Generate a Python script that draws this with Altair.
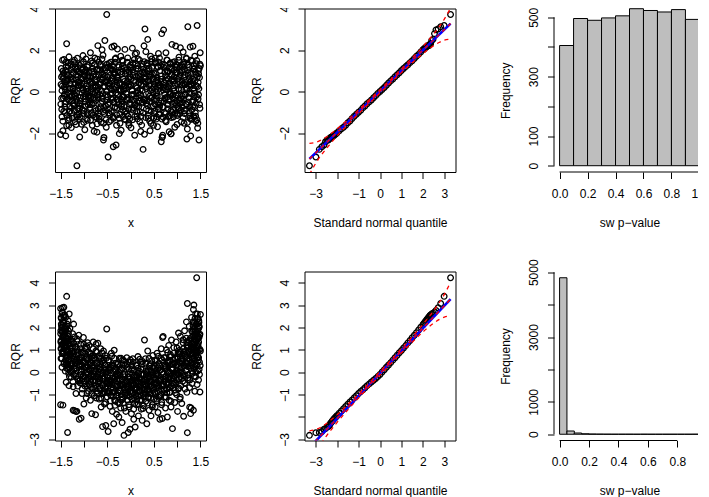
import altair as alt
import pandas as pd

FONT = "Liberation Sans"
W = 151
H1 = 163.5   # top row plot height
H2 = 169     # bottom row plot height

# ---------------- Panel 1: RQR vs x (row 1) ----------------
sc1_x = [
    -1.49,-1.47,-1.46,-1.44,-1.43,-1.41,-1.40,-1.38,-1.37,-1.35,-1.34,-1.32,-1.31,-1.48,-1.45,-1.42,-1.39,-1.36,-1.33,-1.30,
    -1.29,-1.28,-1.26,-1.25,-1.23,-1.22,-1.20,-1.19,-1.17,-1.16,-1.14,-1.13,-1.11,-1.27,-1.24,-1.21,-1.18,-1.15,-1.12,-1.10,
    -1.09,-1.08,-1.06,-1.05,-1.03,-1.02,-1.00,-0.99,-0.97,-0.96,-0.94,-0.93,-0.91,-1.07,-1.04,-1.01,-0.98,-0.95,-0.92,-0.90,
    -0.89,-0.88,-0.86,-0.85,-0.83,-0.82,-0.80,-0.79,-0.77,-0.76,-0.74,-0.73,-0.71,-0.87,-0.84,-0.81,-0.78,-0.75,-0.72,-0.70,
    -0.69,-0.68,-0.66,-0.65,-0.63,-0.62,-0.60,-0.59,-0.57,-0.56,-0.54,-0.53,-0.51,-0.67,-0.64,-0.61,-0.58,-0.55,-0.52,-0.51,
    -0.49,-0.48,-0.46,-0.45,-0.43,-0.42,-0.40,-0.39,-0.37,-0.36,-0.34,-0.33,-0.31,-0.47,-0.44,-0.41,-0.38,-0.35,-0.32,-0.30,
    -0.29,-0.28,-0.26,-0.25,-0.23,-0.22,-0.20,-0.19,-0.17,-0.16,-0.14,-0.13,-0.11,-0.27,-0.24,-0.21,-0.18,-0.15,-0.12,-0.10,
    -0.09,-0.08,-0.06,-0.05,-0.03,-0.02,0.00,0.01,0.03,0.04,0.06,0.07,0.09,-0.07,-0.04,-0.01,0.02,0.05,0.08,0.10,
    0.11,0.12,0.14,0.15,0.17,0.18,0.20,0.21,0.23,0.24,0.26,0.27,0.29,0.13,0.16,0.19,0.22,0.25,0.28,0.30,
    0.31,0.32,0.34,0.35,0.37,0.38,0.40,0.41,0.43,0.44,0.46,0.47,0.49,0.33,0.36,0.39,0.42,0.45,0.48,0.50,
    0.51,0.52,0.54,0.55,0.57,0.58,0.60,0.61,0.63,0.64,0.66,0.67,0.69,0.53,0.56,0.59,0.62,0.65,0.68,0.70,
    0.71,0.72,0.74,0.75,0.77,0.78,0.80,0.81,0.83,0.84,0.86,0.87,0.89,0.73,0.76,0.79,0.82,0.85,0.88,0.90,
    0.91,0.92,0.94,0.95,0.97,0.98,1.00,1.01,1.03,1.04,1.06,1.07,1.09,0.93,0.96,0.99,1.02,1.05,1.08,1.10,
    1.11,1.12,1.14,1.15,1.17,1.18,1.20,1.21,1.23,1.24,1.26,1.27,1.29,1.13,1.16,1.19,1.22,1.25,1.28,1.30,
    1.31,1.32,1.34,1.35,1.37,1.38,1.40,1.41,1.43,1.44,1.46,1.47,1.49,1.33,1.36,1.39,1.42,1.45,1.48,1.50,
    -1.37,-1.50,-1.39,-1.15,-0.58,0.68,1.22,-1.09,0.87,-0.72,
    -1.495,-1.47,-1.45,-1.42,-1.40,-1.37,-1.34,-1.31,
    -1.29,-1.26,-1.24,-1.21,-1.19,-1.16,-1.13,-1.11,
    -1.09,-1.06,-1.04,-1.01,-0.99,-0.96,-0.93,-0.91,
    -0.89,-0.86,-0.84,-0.81,-0.79,-0.76,-0.74,-0.71,
    -0.69,-0.66,-0.64,-0.61,-0.59,-0.56,-0.54,-0.51,
    -0.49,-0.46,-0.44,-0.41,-0.39,-0.36,-0.34,-0.31,
    -0.29,-0.26,-0.24,-0.21,-0.19,-0.16,-0.14,-0.11,
    -0.09,-0.06,-0.04,-0.01,0.01,0.04,0.06,0.09,
    0.11,0.14,0.16,0.19,0.21,0.24,0.26,0.29,
    0.31,0.34,0.36,0.39,0.41,0.44,0.46,0.49,
    0.51,0.54,0.56,0.59,0.61,0.64,0.66,0.69,
    0.71,0.74,0.76,0.79,0.81,0.84,0.86,0.89,
    0.91,0.94,0.96,0.99,1.01,1.04,1.06,1.09,
    1.11,1.14,1.16,1.19,1.21,1.24,1.26,1.29,
    1.31,1.34,1.36,1.39,1.41,1.44,1.46,1.49,
]
sc1_y = [
    0.35,-1.21,1.52,-0.31,0.88,-0.72,0.12,1.21,-1.64,0.55,-0.05,1.68,-0.94,0.71,-1.88,0.23,-0.48,0.98,-1.36,0.41,
    -0.22,1.05,-1.02,0.61,-0.58,1.43,0.04,-1.45,0.82,-0.36,1.61,-0.81,0.29,-1.73,0.19,-0.11,1.18,-1.21,0.47,-0.67,
    1.27,-0.44,0.66,-1.57,0.09,1.74,-0.92,0.38,-0.19,1.02,-1.31,0.51,-0.63,0.91,-0.07,1.44,-1.83,0.14,0.77,-0.39,
    0.58,-1.08,1.88,-0.27,0.97,-1.62,0.21,-0.55,1.31,-0.02,0.73,-1.24,1.57,-0.76,0.36,1.12,-1.91,-0.41,0.05,2.22,
    -0.83,1.42,-0.14,0.63,-1.47,0.92,-0.33,1.76,-2.21,0.26,-0.69,1.15,0.03,-1.18,0.45,2.02,-0.96,2.47,-1.71,3.72,
    0.71,-3.15,1.36,-0.52,0.17,-1.38,2.15,-0.08,-2.65,0.86,-0.79,1.58,-2.57,-1.02,0.39,1.09,-0.31,2.20,0.58,-1.62,
    0.31,2.06,-0.47,1.19,-1.09,0.02,-1.86,0.84,-0.24,1.47,-0.71,0.49,-1.35,0.66,-2.02,1.71,-0.58,0.12,2.04,-0.93,
    0.93,-0.36,1.63,-1.18,0.24,-0.61,1.29,-1.74,0.07,2.10,-0.89,0.55,-2.10,0.43,-1.49,0.71,-0.17,1.06,-0.46,1.82,
    -0.62,1.12,0.18,-1.31,0.77,-0.29,1.51,-0.97,0.36,-1.61,0.94,-2.78,2.21,1.87,-0.05,0.58,-1.92,1.33,-0.38,-2.05,
    3.02,0.62,-0.84,1.26,2.52,-1.16,0.29,-0.22,1.71,-1.53,0.11,0.83,-0.68,1.93,-0.43,0.51,-1.88,1.45,-0.06,-1.27,
    0.37,-0.95,1.38,-0.21,0.69,-1.69,1.84,-0.54,0.16,1.02,-2.41,2.80,-2.10,1.61,-1.21,0.44,-0.75,1.25,-2.19,0.08,
    2.98,-0.46,0.97,-1.39,0.25,1.53,-0.82,0.61,-1.93,1.17,-0.12,-2.03,2.28,-0.99,1.88,-0.26,0.41,-1.16,0.79,-0.57,
    1.41,-0.34,0.52,-1.71,2.20,-0.63,0.91,-1.08,0.14,1.66,-0.41,2.12,-1.45,0.03,-1.02,1.28,-0.19,0.74,-0.88,0.33,
    -0.74,1.19,0.38,-1.52,0.81,-0.15,1.59,-2.28,3.13,-0.49,0.62,-1.17,-2.13,1.91,-0.92,0.21,1.28,-0.06,2.15,-1.33,
    0.52,-0.87,2.19,1.08,-0.23,1.71,-1.41,0.29,3.19,-1.75,0.86,-2.33,1.32,-0.51,0.04,-1.02,1.51,-0.35,0.68,1.25,
    2.31,-2.06,-2.13,-3.57,-2.33,-2.20,-1.80,-2.18,-2.03,-1.95,
    -0.60,0.05,1.00,-0.20,-1.00,0.50,1.25,-0.45,
    0.70,-0.20,1.20,-0.90,0.40,-0.05,1.00,-1.10,
    -0.80,0.30,1.05,-0.25,0.75,-0.70,1.20,0.00,
    -0.30,0.50,-1.05,0.00,0.85,-0.80,0.30,-0.15,
    0.20,1.05,-0.55,0.55,-0.10,-1.05,0.80,-0.40,
    -0.25,0.40,-1.10,0.10,1.25,-0.50,0.95,0.20,
    -0.80,0.55,0.10,-0.35,1.10,-1.20,0.30,0.85,
    -0.10,0.50,-0.85,1.20,0.30,-0.40,0.95,-1.20,
    0.45,-0.70,1.10,-0.15,0.10,0.55,-0.50,0.90,
    -0.35,0.25,1.00,-0.90,0.70,-0.30,1.15,0.20,
    -0.40,0.50,-0.05,1.20,-1.10,0.30,0.60,-0.75,
    0.20,-0.30,0.55,1.00,-0.60,0.00,1.10,-1.00,
    -0.15,1.05,0.35,-0.45,0.60,-0.80,1.20,0.10,
    0.50,-0.35,1.05,-0.60,0.15,0.80,-1.00,0.35,
    -0.10,0.60,-1.20,0.95,-0.55,0.25,-0.15,-0.80,
]
# more points of the dense central band (row 1)
sc1c_x = [
    -1.485,-1.475,-1.462,-1.452,-1.438,-1.428,-1.415,-1.405,-1.392,-1.382,-1.368,-1.358,-1.345,-1.335,-1.322,-1.312,-1.302,
    -1.295,-1.282,-1.272,-1.258,-1.248,-1.235,-1.225,-1.212,-1.202,-1.188,-1.178,-1.165,-1.155,-1.142,-1.132,-1.118,-1.105,
    -1.095,-1.082,-1.072,-1.058,-1.048,-1.035,-1.025,-1.012,-1.002,-0.988,-0.978,-0.965,-0.955,-0.942,-0.932,-0.918,-0.905,
    -0.895,-0.882,-0.872,-0.858,-0.848,-0.835,-0.825,-0.812,-0.802,-0.788,-0.778,-0.765,-0.755,-0.742,-0.732,-0.718,-0.705,
    -0.695,-0.682,-0.672,-0.658,-0.648,-0.635,-0.625,-0.612,-0.602,-0.588,-0.578,-0.565,-0.555,-0.542,-0.532,-0.518,-0.505,
    -0.495,-0.482,-0.472,-0.458,-0.448,-0.435,-0.425,-0.412,-0.402,-0.388,-0.378,-0.365,-0.355,-0.342,-0.332,-0.318,-0.305,
    -0.295,-0.282,-0.272,-0.258,-0.248,-0.235,-0.225,-0.212,-0.202,-0.188,-0.178,-0.165,-0.155,-0.142,-0.132,-0.118,-0.105,
    -0.095,-0.082,-0.072,-0.058,-0.048,-0.035,-0.025,-0.012,-0.002,0.012,0.022,0.035,0.045,0.058,0.068,0.082,0.095,
    0.105,0.118,0.128,0.142,0.152,0.165,0.175,0.188,0.198,0.212,0.222,0.235,0.245,0.258,0.268,0.282,0.295,
    0.305,0.318,0.328,0.342,0.352,0.365,0.375,0.388,0.398,0.412,0.422,0.435,0.445,0.458,0.468,0.482,0.495,
    0.505,0.518,0.528,0.542,0.552,0.565,0.575,0.588,0.598,0.612,0.622,0.635,0.645,0.658,0.668,0.682,0.695,
    0.705,0.718,0.728,0.742,0.752,0.765,0.775,0.788,0.798,0.812,0.822,0.835,0.845,0.858,0.868,0.882,0.895,
    0.905,0.918,0.928,0.942,0.952,0.965,0.975,0.988,0.998,1.012,1.022,1.035,1.045,1.058,1.068,1.082,1.095,
    1.105,1.118,1.128,1.142,1.152,1.165,1.175,1.188,1.198,1.212,1.222,1.235,1.245,1.258,1.268,1.282,1.295,
    1.305,1.318,1.328,1.342,1.352,1.365,1.375,1.388,1.398,1.412,1.422,1.435,1.445,1.458,1.468,1.482,1.495,
    -1.478,-1.455,-1.432,-1.410,-1.388,-1.365,-1.342,-1.318,
    -1.288,-1.265,-1.242,-1.218,-1.195,-1.172,-1.148,-1.125,
    -1.088,-1.065,-1.042,-1.018,-0.995,-0.972,-0.948,-0.925,
    -0.888,-0.865,-0.842,-0.818,-0.795,-0.772,-0.748,-0.725,
    -0.688,-0.665,-0.642,-0.618,-0.595,-0.572,-0.548,-0.525,
    -0.488,-0.465,-0.442,-0.418,-0.395,-0.372,-0.348,-0.325,
    -0.288,-0.265,-0.242,-0.218,-0.195,-0.172,-0.148,-0.125,
    -0.088,-0.065,-0.042,-0.018,0.005,0.028,0.052,0.075,
    0.112,0.135,0.158,0.182,0.205,0.228,0.252,0.275,
    0.312,0.335,0.358,0.382,0.405,0.428,0.452,0.475,
    0.512,0.535,0.558,0.582,0.605,0.628,0.652,0.675,
    0.712,0.735,0.758,0.782,0.805,0.828,0.852,0.875,
    0.912,0.935,0.958,0.982,1.005,1.028,1.052,1.075,
    1.112,1.135,1.158,1.182,1.205,1.228,1.252,1.275,
    1.312,1.335,1.358,1.382,1.405,1.428,1.452,1.475,
]
sc1c_y = [
    1.12,-0.85,0.28,-1.42,0.64,1.55,-0.12,-0.58,1.02,0.32,-1.15,0.82,-0.35,1.38,-1.62,0.15,-0.72,
    -0.95,0.55,1.32,-0.42,-1.28,0.12,0.88,-0.68,1.52,-0.18,0.38,-1.58,1.08,-0.52,0.72,-1.32,0.95,
    0.48,-1.22,-0.28,1.35,0.62,-0.85,0.18,1.12,-1.48,-0.02,0.95,-0.48,1.58,0.28,-1.05,0.68,-0.22,
    1.28,-0.18,0.72,-1.38,0.05,1.48,-0.62,0.42,-1.12,0.98,-0.35,1.62,0.22,-0.92,0.58,-1.55,1.05,
    -0.28,0.82,-1.32,0.35,1.25,-0.72,0.05,1.58,-0.48,0.68,-1.52,0.22,1.02,-0.88,0.48,-0.15,1.32,
    1.18,-0.62,0.25,-1.45,0.78,-0.12,1.42,-0.95,0.52,-0.38,1.05,-1.28,0.12,0.88,-0.72,1.62,-0.05,
    -1.12,0.72,-0.15,1.28,-0.62,0.38,-1.52,0.95,0.08,-0.42,1.52,-0.88,0.62,-0.25,1.15,-1.32,0.28,
    0.18,-1.05,1.42,-0.28,0.62,-1.62,0.95,-0.52,0.32,1.12,-0.85,0.05,-1.35,0.78,-0.12,1.55,-0.65,
    1.35,-0.32,0.72,-1.18,0.05,1.58,-0.72,0.42,-1.45,0.88,-0.15,1.22,-0.55,0.28,-1.02,0.65,1.45,
    -0.42,0.95,-1.25,0.15,1.38,-0.68,0.52,-0.08,1.12,-1.42,0.35,0.78,-0.95,1.58,-0.25,0.62,-1.62,
    0.88,-0.58,1.45,0.12,-1.32,0.55,-0.22,1.18,-0.85,0.32,1.62,-1.08,0.02,0.75,-0.45,1.32,-1.22,
    -0.75,0.42,1.28,-0.35,0.78,-1.45,0.12,1.52,-0.62,0.95,-1.18,0.28,-0.08,1.35,-0.92,0.58,1.08,
    0.62,-1.22,0.18,1.45,-0.55,0.92,-0.18,1.18,-1.58,0.38,-0.72,1.52,0.08,-1.05,0.82,-0.35,1.28,
    1.02,-0.52,-1.25,0.68,1.42,-0.12,0.35,-0.85,1.62,0.12,-1.48,0.92,-0.28,1.18,-0.72,0.48,1.52,
    0.92,-1.32,1.48,-0.42,0.18,1.12,-0.72,0.55,-1.18,1.35,-0.25,0.72,-1.52,1.02,0.15,-0.62,1.88,
    -0.32,0.78,-0.95,0.45,1.42,-0.15,0.62,-1.28,
    0.15,-0.78,0.92,-0.28,1.35,0.58,-1.12,0.32,
    -0.58,1.15,0.38,-1.05,0.82,-0.35,0.12,-1.38,
    0.95,-0.62,0.15,1.38,-0.28,0.55,-1.22,1.05,
    -1.02,0.38,1.32,-0.22,0.85,-0.75,0.45,-1.35,
    0.52,-0.85,1.15,-0.32,0.68,-1.22,0.25,1.42,
    -0.38,0.95,-1.28,0.42,-0.72,1.25,0.05,-0.98,
    1.02,-0.42,0.35,-1.32,0.62,-0.15,1.38,-0.78,
    0.25,-0.95,1.25,-0.45,0.72,-1.18,0.05,1.08,
    0.48,-0.55,1.35,-1.28,0.85,0.05,-0.72,1.22,
    -1.05,0.88,-0.38,0.25,1.42,-0.65,0.48,-1.32,
    1.18,-0.15,-1.05,0.68,0.22,-0.42,1.38,-1.25,
    -0.88,0.72,-0.28,1.32,-1.15,0.48,-0.55,0.92,
    -0.22,1.32,-1.05,0.55,-0.62,1.05,0.28,-1.28,
    0.32,-0.72,1.25,-0.08,0.82,-1.35,0.45,1.12,
]

# ---------------- Panel 4: RQR vs x (row 2, U-shape) ----------------
sc2_x = [
    -1.50,-1.49,-1.49,-1.48,-1.48,-1.47,-1.47,-1.46,-1.46,-1.45,-1.45,-1.44,-1.44,-1.43,-1.43,-1.42,-1.42,-1.41,-1.41,-1.40,
    -1.39,-1.39,-1.38,-1.38,-1.37,-1.37,-1.36,-1.36,-1.35,-1.35,-1.34,-1.34,-1.33,-1.33,-1.32,-1.32,-1.31,-1.31,-1.30,-1.30,
    -1.29,-1.28,-1.27,-1.26,-1.25,-1.24,-1.23,-1.22,-1.21,-1.20,-1.19,-1.18,-1.17,-1.16,-1.15,-1.14,-1.13,-1.12,-1.11,-1.10,
    -1.09,-1.08,-1.07,-1.06,-1.05,-1.04,-1.03,-1.02,-1.01,-1.00,-0.99,-0.98,-0.97,-0.96,-0.95,-0.94,-0.93,-0.92,-0.91,-0.90,
    -0.89,-0.88,-0.87,-0.86,-0.85,-0.84,-0.83,-0.82,-0.81,-0.80,-0.79,-0.78,-0.77,-0.76,-0.75,-0.74,-0.73,-0.72,-0.71,-0.70,
    -0.69,-0.68,-0.67,-0.66,-0.65,-0.64,-0.63,-0.62,-0.61,-0.60,-0.59,-0.58,-0.57,-0.56,-0.55,-0.54,-0.53,-0.52,-0.51,-0.50,
    -0.49,-0.48,-0.47,-0.46,-0.45,-0.44,-0.43,-0.42,-0.41,-0.40,-0.39,-0.38,-0.37,-0.36,-0.35,-0.34,-0.33,-0.32,-0.31,-0.30,
    -0.29,-0.28,-0.27,-0.26,-0.25,-0.24,-0.23,-0.22,-0.21,-0.20,-0.19,-0.18,-0.17,-0.16,-0.15,-0.14,-0.13,-0.12,-0.11,-0.10,
    -0.09,-0.08,-0.07,-0.06,-0.05,-0.04,-0.03,-0.02,-0.01,0.00,0.01,0.02,0.03,0.04,0.05,0.06,0.07,0.08,0.09,0.10,
    0.11,0.12,0.13,0.14,0.15,0.16,0.17,0.18,0.19,0.20,0.21,0.22,0.23,0.24,0.25,0.26,0.27,0.28,0.29,0.30,
    0.31,0.32,0.33,0.34,0.35,0.36,0.37,0.38,0.39,0.40,0.41,0.42,0.43,0.44,0.45,0.46,0.47,0.48,0.49,0.50,
    0.51,0.52,0.53,0.54,0.55,0.56,0.57,0.58,0.59,0.60,0.61,0.62,0.63,0.64,0.65,0.66,0.67,0.68,0.69,0.70,
    0.71,0.72,0.73,0.74,0.75,0.76,0.77,0.78,0.79,0.80,0.81,0.82,0.83,0.84,0.85,0.86,0.87,0.88,0.89,0.90,
    0.91,0.92,0.93,0.94,0.95,0.96,0.97,0.98,0.99,1.00,1.01,1.02,1.03,1.04,1.05,1.06,1.07,1.08,1.09,1.10,
    1.11,1.12,1.13,1.14,1.15,1.16,1.17,1.18,1.19,1.20,1.21,1.22,1.22,1.23,1.24,1.25,1.26,1.27,1.28,1.29,
    1.30,1.31,1.32,1.32,1.33,1.34,1.35,1.35,1.36,1.36,1.37,1.37,1.38,1.38,1.39,1.39,1.40,1.40,1.30,1.33,
    1.41,1.41,1.42,1.42,1.43,1.43,1.44,1.44,1.45,1.45,1.46,1.46,1.47,1.47,1.48,1.48,1.49,1.49,1.50,1.50,
    -1.495,-1.485,-1.475,-1.465,-1.455,-1.435,-1.425,-1.405,
    -1.395,-1.385,-1.375,-1.355,-1.345,-1.325,-1.315,-1.305,
    -1.285,-1.265,-1.245,-1.225,-1.205,-1.185,-1.145,-1.115,
    -1.085,-1.055,-1.035,-1.005,-0.975,-0.955,-0.925,-0.905,
    -0.885,-0.855,-0.835,-0.805,-0.775,-0.745,-0.725,-0.705,
    -0.685,-0.655,-0.625,-0.595,-0.565,-0.545,-0.525,-0.505,
    -0.485,-0.455,-0.425,-0.395,-0.365,-0.345,-0.325,-0.305,
    -0.285,-0.255,-0.235,-0.205,-0.175,-0.155,-0.125,-0.105,
    -0.085,-0.055,-0.035,-0.005,0.025,0.055,0.075,0.095,
    0.115,0.145,0.165,0.195,0.225,0.245,0.275,0.295,
    0.315,0.345,0.365,0.395,0.425,0.445,0.475,0.495,
    0.515,0.545,0.565,0.595,0.625,0.655,0.675,0.695,
    0.715,0.745,0.765,0.795,0.825,0.845,0.875,0.895,
    0.915,0.945,0.965,0.995,1.025,1.055,1.075,1.095,
    1.115,1.145,1.175,1.205,1.235,1.255,1.275,1.295,
    1.305,1.325,1.345,1.365,1.375,1.385,1.395,1.405,
    1.415,1.425,1.435,1.445,1.455,1.465,1.475,1.495,
    -1.50,-1.23,-1.17,
]
sc2_y = [
    2.85,1.42,0.61,2.12,1.05,2.65,0.22,1.78,2.88,1.25,-1.47,2.31,0.85,1.62,2.90,0.45,1.95,2.55,1.15,0.05,
    2.45,0.72,1.55,-0.45,3.39,1.12,2.05,0.31,1.38,-2.69,0.90,2.30,0.12,1.72,-0.60,0.55,1.25,-0.20,0.85,1.95,
    0.35,1.45,-0.22,0.92,0.05,1.72,-0.65,2.15,0.58,-1.72,1.15,0.18,-0.95,0.75,-1.75,1.38,-0.30,0.45,1.65,-2.10,
    0.62,-0.48,1.25,-2.05,0.15,-0.95,0.88,-0.15,1.55,-1.42,0.42,-0.62,1.08,-0.02,-1.15,0.72,-0.35,1.32,0.25,-0.85,
    1.20,-0.55,0.35,-1.25,0.82,-0.12,-1.85,0.55,-0.75,1.35,0.08,-1.05,0.65,-0.38,-1.90,1.25,-0.20,0.42,-0.95,1.30,
    -0.45,0.72,-1.20,0.15,-0.72,1.05,-1.55,-0.05,0.48,-2.43,-0.95,0.95,-0.30,-1.42,0.32,-0.62,-2.38,0.62,1.93,-1.10,
    -0.15,-2.65,0.55,-0.85,-0.35,-1.52,0.22,-1.05,0.85,-0.55,-1.75,0.05,-0.72,-2.30,0.98,-1.25,-0.20,0.40,-1.05,-1.88,
    -0.62,0.35,-1.35,-0.10,-2.00,0.62,-0.85,-0.35,-1.60,0.12,-1.10,-2.25,0.55,-0.55,-1.38,-2.82,-0.20,-0.95,0.30,-1.75,
    -0.40,0.65,-1.25,-0.75,-2.69,0.15,-1.55,-0.30,-2.55,0.45,-0.95,-1.85,-0.05,-1.20,0.60,-0.60,-2.10,-0.20,-1.40,-2.45,
    -0.70,0.30,-1.45,-0.15,-1.05,0.70,-1.95,-0.45,0.05,-1.25,-0.85,0.45,-1.65,-0.30,-2.15,0.15,-0.95,-1.50,-0.10,1.44,
    -0.55,0.60,-1.30,-0.20,-2.30,-0.80,0.95,-1.10,0.10,-1.70,-0.40,0.35,-0.95,-1.95,0.05,-0.60,-1.45,0.75,-0.25,-1.20,
    0.20,-0.90,-1.55,0.55,-0.35,-1.20,0.85,-0.05,-1.80,-0.60,0.40,-1.05,-2.10,0.10,-0.75,1.05,-1.35,-2.07,1.55,1.60,
    -0.40,0.65,-1.10,0.15,-1.60,-0.20,1.00,-0.75,-2.00,0.40,-0.45,1.20,-1.25,0.00,-0.90,0.70,-1.55,1.44,-0.15,-2.52,
    0.35,-0.70,1.10,-0.15,-1.35,0.60,-0.45,1.35,-1.00,0.10,-1.75,0.85,1.75,-0.30,0.45,-1.20,1.60,-0.60,0.20,-1.40,
    0.75,-0.40,1.45,-1.97,0.30,1.85,-0.75,0.95,0.05,2.25,-0.90,3.07,-2.70,1.20,-0.35,0.60,2.05,-1.56,1.50,-1.85,
    0.40,2.45,1.10,-0.50,1.80,0.75,2.80,-1.70,3.00,1.35,0.15,2.20,0.95,-0.85,1.65,0.50,2.60,-0.20,-1.60,-0.05,
    1.40,0.30,4.22,2.15,0.90,-0.55,1.85,0.05,2.40,1.15,-0.35,0.65,2.00,1.55,-0.10,0.45,1.70,-0.88,2.58,0.95,
    1.85,2.40,1.20,2.00,0.90,2.20,1.40,1.80,
    1.60,2.00,0.40,1.00,1.50,0.70,2.60,0.20,
    0.80,0.40,1.10,-0.10,0.90,0.30,0.60,-0.40,
    0.30,0.90,-0.30,0.50,-0.20,0.60,0.00,0.90,
    0.10,-0.40,0.70,-0.20,0.30,-0.60,0.90,-0.10,
    0.30,-0.30,0.60,-0.60,0.10,-0.90,0.00,-0.40,
    -0.50,0.20,-0.40,-0.90,0.30,-0.60,-1.30,-0.10,
    -0.30,-0.80,0.10,-0.60,-1.20,-0.10,-0.50,-0.90,
    -0.90,-0.20,-0.60,-1.10,-0.40,-0.90,0.10,-0.70,
    -0.20,-0.90,-0.40,-1.00,-0.10,-0.70,-0.40,-1.10,
    -0.90,-0.10,-0.50,-0.90,-0.20,-0.60,0.20,-0.80,
    -0.50,-0.10,-0.70,0.20,-0.40,-1.00,0.00,-0.60,
    -0.80,0.30,-0.50,0.00,-0.30,0.50,-0.60,0.20,
    -0.30,0.40,-0.80,0.70,-0.10,0.90,-0.20,0.50,
    0.00,0.80,0.40,1.20,-0.10,0.90,0.30,1.00,
    1.30,0.30,1.90,0.60,1.50,2.40,1.00,0.00,
    1.80,1.20,2.60,0.70,1.60,2.30,1.00,0.30,
    -1.45,-1.70,-1.75,
]
# more points of the dense U-shaped band (row 2)
sc2c_x = [
    -1.498,-1.492,-1.488,-1.482,-1.478,-1.472,-1.468,-1.462,-1.458,-1.452,-1.448,-1.442,-1.438,-1.432,-1.428,-1.418,-1.408,
    -1.398,-1.392,-1.388,-1.382,-1.378,-1.372,-1.368,-1.362,-1.358,-1.352,-1.348,-1.342,-1.338,-1.332,-1.328,-1.318,-1.308,
    -1.295,-1.282,-1.272,-1.258,-1.248,-1.235,-1.225,-1.212,-1.202,-1.188,-1.178,-1.165,-1.155,-1.142,-1.132,-1.118,-1.105,
    -1.095,-1.082,-1.072,-1.058,-1.048,-1.035,-1.025,-1.012,-1.002,-0.988,-0.978,-0.965,-0.955,-0.942,-0.932,-0.918,-0.905,
    -0.895,-0.882,-0.872,-0.858,-0.848,-0.835,-0.825,-0.812,-0.802,-0.788,-0.778,-0.765,-0.755,-0.742,-0.732,-0.718,-0.705,
    -0.695,-0.682,-0.672,-0.658,-0.648,-0.635,-0.625,-0.612,-0.602,-0.588,-0.578,-0.565,-0.555,-0.542,-0.532,-0.518,-0.505,
    -0.495,-0.482,-0.472,-0.458,-0.448,-0.435,-0.425,-0.412,-0.402,-0.388,-0.378,-0.365,-0.355,-0.342,-0.332,-0.318,-0.305,
    -0.295,-0.282,-0.272,-0.258,-0.248,-0.235,-0.225,-0.212,-0.202,-0.188,-0.178,-0.165,-0.155,-0.142,-0.132,-0.118,-0.105,
    -0.095,-0.082,-0.072,-0.058,-0.048,-0.035,-0.025,-0.012,-0.002,0.012,0.022,0.035,0.045,0.058,0.068,0.082,0.095,
    0.105,0.118,0.128,0.142,0.152,0.165,0.175,0.188,0.198,0.212,0.222,0.235,0.245,0.258,0.268,0.282,0.295,
    0.305,0.318,0.328,0.342,0.352,0.365,0.375,0.388,0.398,0.412,0.422,0.435,0.445,0.458,0.468,0.482,0.495,
    0.505,0.518,0.528,0.542,0.552,0.565,0.575,0.588,0.598,0.612,0.622,0.635,0.645,0.658,0.668,0.682,0.695,
    0.705,0.718,0.728,0.742,0.752,0.765,0.775,0.788,0.798,0.812,0.822,0.835,0.845,0.858,0.868,0.882,0.895,
    0.905,0.918,0.928,0.942,0.952,0.965,0.975,0.988,0.998,1.012,1.022,1.035,1.045,1.058,1.068,1.082,1.095,
    1.105,1.118,1.128,1.142,1.152,1.165,1.175,1.188,1.198,1.212,1.222,1.235,1.245,1.258,1.268,1.282,1.295,
    1.302,1.308,1.312,1.318,1.322,1.328,1.332,1.338,1.342,1.348,1.352,1.358,1.362,1.368,1.372,1.382,1.392,
    1.402,1.408,1.412,1.418,1.422,1.428,1.432,1.438,1.442,1.448,1.452,1.458,1.462,1.468,1.472,1.482,1.492,
    -1.495,-1.485,-1.470,-1.455,-1.440,-1.420,-1.390,-1.360,
    -1.288,-1.265,-1.242,-1.218,-1.195,-1.172,-1.148,-1.125,
    -1.088,-1.065,-1.042,-1.018,-0.995,-0.972,-0.948,-0.925,
    -0.888,-0.865,-0.842,-0.818,-0.795,-0.772,-0.748,-0.725,
    -0.688,-0.665,-0.642,-0.618,-0.595,-0.572,-0.548,-0.525,
    -0.488,-0.465,-0.442,-0.418,-0.395,-0.372,-0.348,-0.325,
    -0.288,-0.265,-0.242,-0.218,-0.195,-0.172,-0.148,-0.125,
    -0.088,-0.065,-0.042,-0.018,0.005,0.028,0.052,0.075,
    0.112,0.135,0.158,0.182,0.205,0.228,0.252,0.275,
    0.312,0.335,0.358,0.382,0.405,0.428,0.452,0.475,
    0.512,0.535,0.558,0.582,0.605,0.628,0.652,0.675,
    0.712,0.735,0.758,0.782,0.805,0.828,0.852,0.875,
    0.912,0.935,0.958,0.982,1.005,1.028,1.052,1.075,
    1.112,1.135,1.158,1.182,1.205,1.228,1.252,1.275,
    1.305,1.325,1.345,1.365,1.385,1.415,1.445,1.475,
]
sc2c_y = [
    1.72,1.05,2.45,1.38,2.02,0.62,1.88,1.25,2.68,1.55,2.22,0.95,1.65,2.48,0.38,1.92,1.32,
    1.22,0.55,1.95,0.95,1.48,0.18,1.15,0.72,2.15,1.02,1.62,0.35,1.28,1.85,-0.05,1.42,0.82,
    0.68,0.02,1.38,0.38,0.95,-0.42,0.82,0.15,1.58,0.45,1.12,-0.18,0.58,1.48,-0.62,0.88,0.25,
    0.32,-0.35,1.05,0.02,0.62,-0.75,0.48,-0.18,1.25,0.12,0.82,-0.52,0.22,1.15,-0.95,0.55,-0.08,
    0.12,-0.55,0.85,-0.18,0.42,-0.95,0.28,-0.38,1.05,-0.08,0.62,-0.72,0.02,0.95,-1.15,0.35,-0.28,
    -0.08,-0.75,0.62,-0.38,0.22,-1.15,0.08,-0.58,0.85,-0.28,0.42,-0.92,-0.18,0.75,-1.35,0.15,-0.48,
    -0.22,-0.92,0.48,-0.52,0.08,-1.28,-0.05,-0.72,0.72,-0.42,0.28,-1.08,-0.32,0.62,-1.48,0.02,-0.62,
    -0.32,-1.02,0.38,-0.62,-0.02,-1.40,-0.15,-0.82,0.62,-0.52,0.18,-1.18,-0.42,0.52,-1.60,-0.08,-0.72,
    -0.38,-1.05,0.35,-0.68,-0.08,-1.45,-0.22,-0.88,0.55,-0.58,0.12,-1.22,-0.48,0.45,-1.65,-0.15,-0.78,
    -0.35,-1.08,0.32,-0.70,-0.05,-1.42,-0.25,-0.85,0.58,-0.55,0.15,-1.25,-0.45,0.48,-1.62,-0.12,-0.80,
    -0.32,-0.98,0.40,-0.62,-0.02,-1.38,-0.18,-0.80,0.62,-0.50,0.18,-1.15,-0.42,0.52,-1.55,-0.10,-0.72,
    -0.22,-0.90,0.50,-0.52,0.08,-1.28,-0.08,-0.70,0.72,-0.40,0.28,-1.05,-0.32,0.62,-1.45,0.00,-0.62,
    -0.08,-0.75,0.65,-0.38,0.22,-1.12,0.08,-0.55,0.88,-0.25,0.45,-0.90,-0.18,0.78,-1.30,0.15,-0.48,
    0.12,-0.55,0.85,-0.18,0.42,-0.92,0.28,-0.35,1.08,-0.05,0.65,-0.70,0.02,0.98,-1.12,0.35,-0.28,
    0.58,-0.10,1.32,0.28,0.88,-0.48,0.75,0.10,1.52,0.40,1.08,-0.25,0.48,1.42,-0.68,0.82,0.18,
    1.12,0.45,1.85,0.82,1.42,0.05,1.28,0.62,2.08,0.92,1.62,0.25,1.02,1.95,-0.18,1.35,0.72,
    1.42,0.75,2.15,1.08,1.72,0.32,1.55,0.95,2.38,1.25,1.92,0.55,1.35,2.22,0.12,1.65,1.02,
    1.35,2.15,0.85,1.62,2.55,1.08,1.85,0.65,
    1.05,0.28,0.72,1.28,-0.05,0.52,1.02,-0.32,
    0.55,-0.12,0.32,0.88,-0.45,0.22,0.65,-0.62,
    -0.25,0.42,-0.68,0.18,0.75,-0.45,0.05,-0.85,
    0.02,-0.62,0.35,-0.95,-0.28,0.55,-0.72,-0.05,
    -0.72,0.12,-0.42,-1.02,0.32,-0.25,-0.88,0.15,
    -0.18,-0.92,0.25,-0.55,-1.25,-0.32,0.35,-0.78,
    -0.62,0.22,-1.02,-0.42,-0.82,0.28,-0.35,-1.15,
    -0.48,-1.22,0.18,-0.65,-0.28,-1.05,0.35,-0.58,
    -0.78,0.05,-0.45,-1.15,0.28,-0.62,-0.12,-0.95,
    -0.12,-0.72,0.32,-0.48,-1.12,0.08,-0.35,0.55,
    -0.55,0.28,-0.22,-0.92,0.52,-0.05,-0.68,0.35,
    0.15,-0.48,0.62,-0.12,0.35,-0.75,0.82,0.02,
    0.42,1.05,-0.15,0.68,1.35,0.25,0.95,-0.35,
    1.55,0.62,2.25,1.12,1.85,0.85,1.48,2.05,
]

# ---------------- QQ plots (theoretical quantile, RQR) ----------------
qq_x = [-3.29,-2.99,-2.83,-2.71,-2.61,-2.54,-2.47,-2.41,-2.36,-2.32,-2.28,-2.24,-2.20,-2.16,-2.12,-2.08,-2.04,-2.00,
        -1.9,-1.8,-1.7,-1.6,-1.5,-1.4,-1.3,-1.2,-1.1,-1.0,-0.9,-0.8,-0.7,-0.6,-0.5,-0.4,-0.3,-0.2,-0.1,0.0,
        0.1,0.2,0.3,0.4,0.5,0.6,0.7,0.8,0.9,1.0,1.1,1.2,1.3,1.4,1.5,1.6,1.7,1.8,1.9,
        2.00,2.04,2.08,2.12,2.16,2.20,2.24,2.28,2.32,2.36,2.41,2.47,2.54,2.61,2.71,2.83,2.99,3.29]
qq1_y = [-3.57,-3.15,-2.78,-2.65,-2.57,-2.41,-2.33,-2.33,-2.28,-2.22,-2.20,-2.18,-2.13,-2.12,-2.08,-2.05,-2.02,-1.98,
         -1.88,-1.79,-1.71,-1.62,-1.50,-1.41,-1.29,-1.18,-1.09,-0.99,-0.90,-0.78,-0.69,-0.58,-0.49,-0.40,-0.29,-0.19,-0.08,0.01,
         0.11,0.20,0.31,0.42,0.52,0.61,0.72,0.82,0.91,1.02,1.12,1.21,1.30,1.40,1.49,1.60,1.71,1.80,1.91,
         2.02,2.05,2.09,2.13,2.15,2.20,2.21,2.22,2.28,2.31,2.47,2.52,2.80,2.98,3.02,3.13,3.19,3.72]
qq2_y = [-2.82,-2.70,-2.69,-2.65,-2.55,-2.52,-2.45,-2.43,-2.38,-2.30,-2.25,-2.20,-2.15,-2.10,-2.06,-2.02,-1.98,-1.93,
         -1.83,-1.73,-1.63,-1.53,-1.43,-1.33,-1.24,-1.14,-1.05,-0.95,-0.86,-0.78,-0.69,-0.60,-0.52,-0.44,-0.36,-0.28,-0.19,-0.10,
         0.01,0.11,0.22,0.32,0.43,0.54,0.65,0.76,0.87,0.97,1.08,1.19,1.31,1.42,1.54,1.65,1.77,1.89,2.01,
         2.12,2.17,2.22,2.27,2.32,2.37,2.42,2.47,2.52,2.56,2.60,2.64,2.68,2.76,2.88,3.07,3.39,4.22]

# reference lines (blue, solid)
qline_x = [-3.29, 3.29]
qline1_y = [-3.24, 3.28]
qline2_y = [-3.37, 3.27]

# red dashed envelope (centre, upper, lower)
env_x = [-3.29,-3.0,-2.75,-2.5,-2.25,-2.0,-1.5,-1.0,0.0,1.0,1.5,2.0,2.25,2.5,2.75,3.0,3.29]
env1_c = [-3.24,-2.95,-2.70,-2.46,-2.21,-1.96,-1.47,-0.97,0.02,1.01,1.51,2.00,2.25,2.50,2.74,2.99,3.28]
env1_u = [-2.49,-2.44,-2.33,-2.18,-1.99,-1.79,-1.35,-0.88,0.10,1.10,1.63,2.17,2.47,2.78,3.11,3.50,4.03]
env1_l = [-3.99,-3.46,-3.07,-2.74,-2.43,-2.13,-1.59,-1.06,-0.06,0.92,1.39,1.83,2.03,2.22,2.37,2.48,2.53]
env2_c = [-3.37,-3.07,-2.82,-2.57,-2.32,-2.07,-1.56,-1.06,-0.05,0.96,1.46,1.97,2.22,2.47,2.72,2.97,3.27]
env2_u = [-2.62,-2.56,-2.45,-2.29,-2.10,-1.90,-1.44,-0.97,0.03,1.05,1.58,2.14,2.44,2.75,3.09,3.48,4.02]
env2_l = [-4.12,-3.58,-3.19,-2.85,-2.54,-2.24,-1.68,-1.15,-0.13,0.87,1.34,1.80,2.00,2.19,2.35,2.46,2.52]

# ---------------- Histograms of Shapiro-Wilk p-values ----------------
hist1_breaks = [0.0,0.1,0.2,0.3,0.4,0.5,0.6,0.7,0.8,0.9,1.0]
hist1_counts = [405,496,490,498,505,529,523,518,526,493]
hist2_breaks = [0.0,0.05,0.10,0.15,0.20,0.25,0.30,0.35,0.40,0.45,0.50,0.55,0.60,0.65,0.70,0.75,0.80,0.85,0.90,0.95]
hist2_counts = [4830,100,38,14,7,4,2,1,1,1,0,1,0,0,0,0,0,0,1]

# axis tick values and which of them carry a label
sc_xticks = [-1.5,-1.0,-0.5,0.0,0.5,1.0,1.5]
sc_xshow = [-1.5,-0.5,0.5,1.5]
qq_xticks = [-3,-2,-1,0,1,2,3]
qq_xshow = [-3,-1,0,1,2,3]
r1_yticks = [-2,0,2,4]
r2_yticks = [-3,-2,-1,0,1,2,3,4]
r2_yshow = [-3,-1,0,1,2,3,4]
h1_xticks = [0.0,0.2,0.4,0.6,0.8,1.0]
h1_yticks = [0,100,200,300,400,500]
h1_yshow = [0,100,300,500]
h2_xticks = [0.0,0.2,0.4,0.6,0.8]
h2_yticks = [0,1000,2000,3000,4000,5000]
h2_yshow = [0,1000,3000,5000]

SC_XDOM = [-1.62, 1.62]
QQ_XDOM = [-3.52, 3.52]
R1_YDOM = [-3.87, 4.01]
R2_YDOM = [-3.05, 4.50]
H1_YDOM = [-21.2, 529.7]
H2_YDOM = [-193, 5023]

PT_SIZE = 32
PT_SW = 1.3


def show_expr(show):
    cond = " || ".join(f"datum.value == {v}" for v in show)
    return f"({cond}) ? datum.label : ''"


def x_axis(values, fmt, show, title):
    return alt.Axis(
        values=values, format=fmt, labelExpr=show_expr(show), title=title,
        domain=False, grid=False, ticks=True, tickSize=6.5, tickColor="black", tickWidth=1,
        labelAngle=0, labelAlign="center", labelBaseline="middle", labelPadding=14.8,
        labelFont=FONT, labelFontSize=12, labelColor="black", labelOverlap=False, labelFlush=False,
        titleFont=FONT, titleFontSize=12, titleFontWeight="normal", titleColor="black",
        titleX=W / 2, titleY=50, titleAlign="center", titleBaseline="middle", titleAngle=0,
    )


def y_axis(values, fmt, show, title, h, tx=-48.5):
    return alt.Axis(
        values=values, format=fmt, labelExpr=show_expr(show), title=title,
        domain=False, grid=False, ticks=True, tickSize=6.5, tickColor="black", tickWidth=1,
        labelAngle=270, labelAlign="center", labelBaseline="middle", labelPadding=14,
        labelFont=FONT, labelFontSize=12, labelColor="black", labelOverlap=False, labelFlush=False,
        titleFont=FONT, titleFontSize=12, titleFontWeight="normal", titleColor="black",
        titleX=tx, titleY=h / 2, titleAlign="center", titleBaseline="middle", titleAngle=270,
    )


def lin(dom):
    return alt.Scale(domain=dom, nice=False, zero=False)


def scatter_panel(xs, ys, ydom, yax, h):
    df = pd.DataFrame({"x": xs, "y": ys})
    return alt.Chart(df).mark_point(
        shape="circle", filled=False, color="black", size=PT_SIZE, strokeWidth=PT_SW, opacity=1, clip=True
    ).encode(
        x=alt.X("x:Q", scale=lin(SC_XDOM), axis=x_axis(sc_xticks, ".1f", sc_xshow, "x")),
        y=alt.Y("y:Q", scale=lin(ydom), axis=yax),
    ).properties(width=W, height=h)


def qq_panel(qy, ly, ec, eu, el, ydom, yax, h):
    xe = alt.X("x:Q", scale=lin(QQ_XDOM), axis=x_axis(qq_xticks, "d", qq_xshow, "Standard normal quantile"))
    ye = alt.Y("y:Q", scale=lin(ydom), axis=yax)
    pts = alt.Chart(pd.DataFrame({"x": qq_x, "y": qy})).mark_point(
        shape="circle", filled=False, color="black", size=PT_SIZE, strokeWidth=PT_SW, opacity=1, clip=True
    ).encode(x=xe, y=ye)
    blue = alt.Chart(pd.DataFrame({"x": qline_x, "y": ly})).mark_line(
        color="#0000FF", strokeWidth=2.6, clip=True
    ).encode(x=xe, y=ye)
    n = len(env_x)
    env = pd.DataFrame({"x": env_x * 3, "y": ec + eu + el, "part": ["c"] * n + ["u"] * n + ["l"] * n})
    red = alt.Chart(env).mark_line(
        color="#FF0000", strokeWidth=1.3, strokeDash=[4, 4], clip=True, interpolate="monotone"
    ).encode(x=xe, y=ye, detail="part:N")
    return alt.layer(pts, blue, red).properties(width=W, height=h)


def hist_panel(breaks, counts, xdom, ydom, xticks, yticks, yshow, h):
    df = pd.DataFrame({"l": breaks[:-1], "r": breaks[1:], "c": counts})
    xe = alt.X("l:Q", scale=lin(xdom), axis=x_axis(xticks, ".1f", xticks, "sw p\u2212value"))
    ye = alt.Y("c:Q", scale=lin(ydom), axis=y_axis(yticks, "d", yshow, "Frequency", h))
    bars = alt.Chart(df).mark_rect(fill="#BEBEBE", stroke="black", strokeWidth=1).encode(
        x=xe, x2=alt.X2("r"), y=ye, y2=alt.datum(0)
    )
    xline = alt.Chart(pd.DataFrame({"l": [xticks[0]], "r": [xticks[-1]]})).mark_rule(
        color="black", strokeWidth=1
    ).encode(x=xe, x2=alt.X2("r"), y=alt.value(h))
    yline = alt.Chart(pd.DataFrame({"c": [yticks[0]], "c2": [yticks[-1]]})).mark_rule(
        color="black", strokeWidth=1
    ).encode(y=ye, y2=alt.Y2("c2"), x=alt.value(0))
    return alt.layer(bars, xline, yline).properties(
        width=W, height=h, view=alt.ViewBackground(stroke="transparent")
    )


p1 = scatter_panel(sc1_x + sc1c_x, sc1_y + sc1c_y, R1_YDOM,
                   y_axis(r1_yticks, "d", r1_yticks, "RQR", H1, tx=-40), H1)
p2 = qq_panel(qq1_y, qline1_y, env1_c, env1_u, env1_l, R1_YDOM,
              y_axis(r1_yticks, "d", r1_yticks, "RQR", H1), H1)
p3 = hist_panel(hist1_breaks, hist1_counts, [-0.04, 1.04], H1_YDOM, h1_xticks, h1_yticks, h1_yshow, H1)
p4 = scatter_panel(sc2_x + sc2c_x, sc2_y + sc2c_y, R2_YDOM,
                   y_axis(r2_yticks, "d", r2_yshow, "RQR", H2, tx=-40), H2)
p5 = qq_panel(qq2_y, qline2_y, env2_c, env2_u, env2_l, R2_YDOM,
              y_axis(r2_yticks, "d", r2_yshow, "RQR", H2), H2)
p6 = hist_panel(hist2_breaks, hist2_counts, [-0.038, 0.988], H2_YDOM, h2_xticks, h2_yticks, h2_yshow, H2)

# negative right padding keeps the page from shrinking the whole drawing to fit the window
chart = alt.concat(
    p1, p2, p3, p4, p5, p6, columns=3, spacing={"row": 99, "column": 98.5}, bounds="flush"
).properties(
    padding={"top": -3.5, "left": 0, "right": -11, "bottom": 0}
).configure(font=FONT, background="white").configure_view(stroke="black", strokeWidth=1)

chart.save("out.html", embed_options={"renderer": "svg", "actions": False})
